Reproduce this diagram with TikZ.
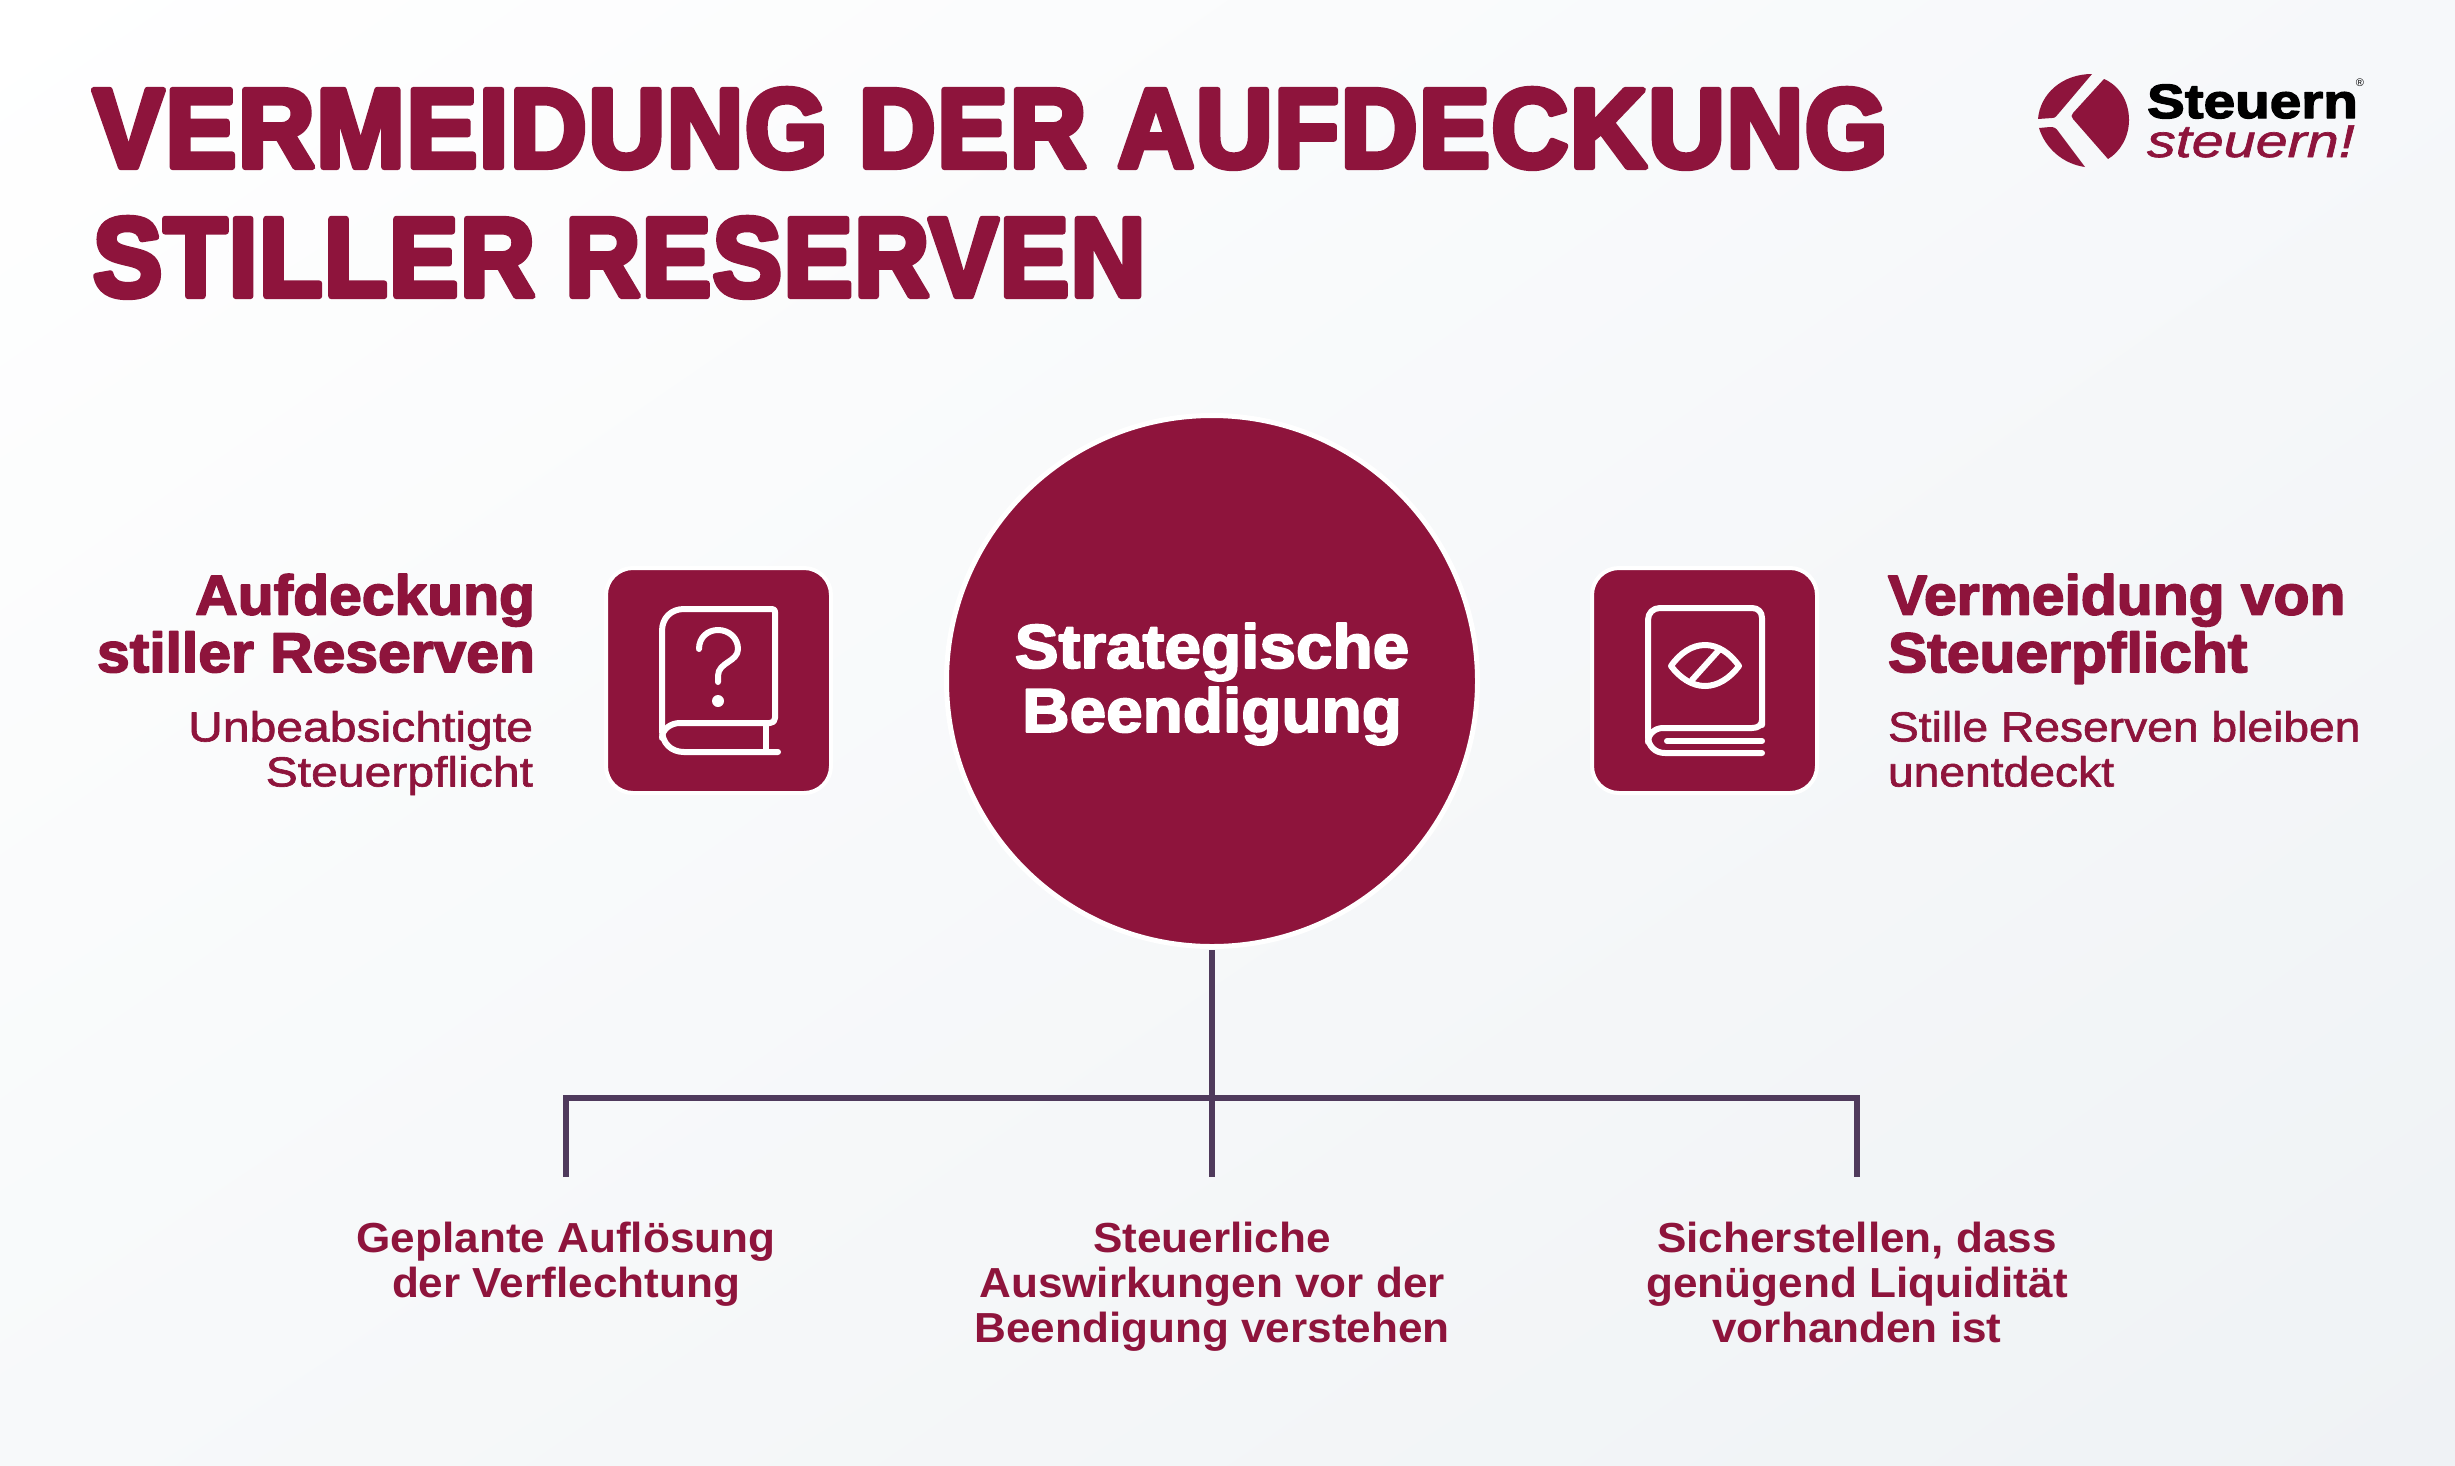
\documentclass[tikz,border=0pt]{standalone}
\usepackage{fontspec}
\usetikzlibrary{shadings}
\setmainfont{Liberation Sans}
\newfontfamily\ftitle[FakeBold=5.5,LetterSpace=1.5]{Liberation Sans Bold}
\newfontfamily\fhead[FakeBold=3,FakeStretch=1.05]{Liberation Sans Bold}
\newfontfamily\fcirc[FakeBold=3,FakeStretch=1.06]{Liberation Sans Bold}
\newfontfamily\fsemi[FakeStretch=1.05]{Liberation Sans Bold}
\newfontfamily\fmed[FakeBold=1.5,FakeStretch=1.1]{Liberation Sans}
\newfontfamily\fmedL[FakeBold=1.5,FakeStretch=1.145]{Liberation Sans}
\newfontfamily\flogo[FakeBold=3,FakeStretch=1.18]{Liberation Sans Bold}
\newfontfamily\fhand[FakeBold=1.5,FakeStretch=1.25]{Liberation Sans Italic}
\definecolor{wine}{HTML}{8E143C}
\definecolor{conn}{HTML}{4F3A5C}
\definecolor{bgUR}{HTML}{F6F8FA}
\definecolor{bgLL}{HTML}{F7F9FA}
\definecolor{bgLR}{HTML}{EFF2F5}
\tikzset{
 txt/.style={inner sep=0pt,outer sep=0pt},
 titletxt/.style={txt,anchor=base west,text=wine,font=\ftitle\fontsize{112}{112}\selectfont},
 headtxt/.style={txt,text=wine,font=\fhead\fontsize{56}{57.5}\selectfont},
 subtxt/.style={txt,text=wine,font=\fmed\fontsize{42}{45}\selectfont},
 subtxtl/.style={txt,text=wine,font=\fmedL\fontsize{42}{45}\selectfont},
 labeltxt/.style={txt,text=wine,align=center,font=\fsemi\fontsize{42}{45}\selectfont},
 iconbox/.style={fill=wine,draw=white,line width=4pt,rounded corners=27pt,minimum size=225pt,inner sep=0pt,outer sep=0pt},
 iconline/.style={draw=white,line width=6pt,line cap=round,line join=round},
 connector/.style={draw=conn,line width=6pt},
}
\begin{document}
\begin{tikzpicture}[x=1pt,y=-1pt,line join=round]
\useasboundingbox (0,0) rectangle (2455,1465);
\shade[upper left=white,upper right=bgUR,lower left=bgLL,lower right=bgLR] (0,0) rectangle (2455,1465);

% title
\node[titletxt] (t1) at (93,167) {\scalebox{0.949}[1]{VERMEIDUNG DER AUFDECKUNG}};
\node[titletxt] (t2) at (93,296) {\scalebox{0.927}[1]{STILLER RESERVEN}};

% logo
\fill[wine] (2104,79) .. controls (2120,86) and (2129,102) .. (2129,120) .. controls (2129,137) and (2120,152) .. (2108,159) -- (2073,119) .. controls (2071,117) and (2071,115) .. (2073,113) -- cycle;
\fill[wine] (2092,74) .. controls (2062,74) and (2040,94) .. (2038,119) -- (2052,118) .. controls (2056,118) and (2056,116) .. (2059,113) -- cycle;
\fill[wine] (2039,128) -- (2050,127) .. controls (2054,127) and (2056,128) .. (2058,131) -- (2085,167) .. controls (2063,164) and (2045,148) .. (2039,128) -- cycle;
\node[txt,anchor=base west,font=\flogo\fontsize{48}{48}\selectfont,text=black] (l1) at (2147,118) {Steuern};
\node[txt,anchor=base west,font=\fhand\fontsize{46}{46}\selectfont,text=wine] (l2) at (2147,157) {steuern!};
\node[txt,font=\fontsize{11}{11}\selectfont,text=black] (l3) at (2360,83) {®};

% circle
\node[circle,fill=wine,draw=white,line width=5pt,minimum size=531pt,inner sep=0pt,outer sep=0pt] (root) at (1212,681) {};
\node[txt,align=center,text=white,font=\fcirc\fontsize{62}{64}\selectfont] (rootlabel) at (1212,684) {Strategische\\Beendigung};

% icon boxes
\node[iconbox] (bl) at (718.5,680.5) {};
\node[iconbox] (br) at (1704.5,680.5) {};

% left book
\draw[iconline] (775,612) .. controls (775,610) and (774,609) .. (772,609) -- (684,609) .. controls (671,609) and (662,618) .. (662,631) -- (662,730) .. controls (662,743) and (671,752) .. (684,752) -- (778,752);
\draw[iconline] (662,738) .. controls (662,729) and (671,723) .. (680,723) -- (770,723) .. controls (773,723) and (775,721) .. (775,718) -- (775,612);
\draw[iconline,line cap=butt] (766,723) -- (766,752);
\draw[iconline] (699,649) .. controls (699,637) and (708,630) .. (718,630) .. controls (729,630) and (738,638) .. (738,649) .. controls (738,662) and (718,662) .. (718,676) -- (718,682);
\fill[white] (718,701) circle[radius=6];

% right book
\draw[iconline] (1762,725) -- (1762,618) .. controls (1762,612) and (1758,608) .. (1752,608) -- (1660,608) .. controls (1653,608) and (1648,613) .. (1648,620) -- (1648,736) .. controls (1648,746) and (1655,753) .. (1665,753) -- (1762,753);
\draw[iconline] (1648,742) .. controls (1648,734) and (1655,728) .. (1663,728) -- (1752,728) .. controls (1758,728) and (1762,725) .. (1762,720);
\draw[iconline] (1667,741) -- (1762,741);
\draw[iconline] (1671,666) .. controls (1680,653) and (1692,645) .. (1705,645) .. controls (1718,645) and (1730,653) .. (1739,666) .. controls (1730,678) and (1718,686) .. (1705,686) .. controls (1692,686) and (1680,678) .. (1671,666) -- cycle;
\draw[iconline] (1719,650) -- (1692,680);

% side text
\node[headtxt,align=right,anchor=north east] (hl) at (535,574) {Aufdeckung\\stiller Reserven};
\node[subtxtl,align=right,anchor=north east] (sl) at (533,711) {Unbeabsichtigte\\Steuerpflicht};
\node[headtxt,align=left,anchor=north west] (hr) at (1888,574) {Vermeidung von\\Steuerpflicht};
\node[subtxt,align=left,anchor=north west] (sr) at (1888,711) {Stille Reserven bleiben\\unentdeckt};

% bottom labels
\node[labeltxt,anchor=north] (a) at (566,1222) {Geplante Auflösung\\der Verflechtung};
\node[labeltxt,anchor=north] (b) at (1212,1222) {Steuerliche\\Auswirkungen vor der\\Beendigung verstehen};
\node[labeltxt,anchor=north] (c) at (1857,1222) {Sicherstellen, dass\\genügend Liquidität\\vorhanden ist};

% connectors
\coordinate (j) at (1212,1098);
\coordinate (ja) at (566,1098);
\coordinate (jc) at (1857,1098);
\coordinate (top) at (1212,950);
\coordinate (ea) at (566,1177);
\coordinate (eb) at (1212,1177);
\coordinate (ec) at (1857,1177);
\draw[connector] (top) -- (j);
\draw[connector] (j) -- (eb);
\draw[connector,line join=miter] (ea) -- (ja) -- (jc) -- (ec);
\end{tikzpicture}
\end{document}
